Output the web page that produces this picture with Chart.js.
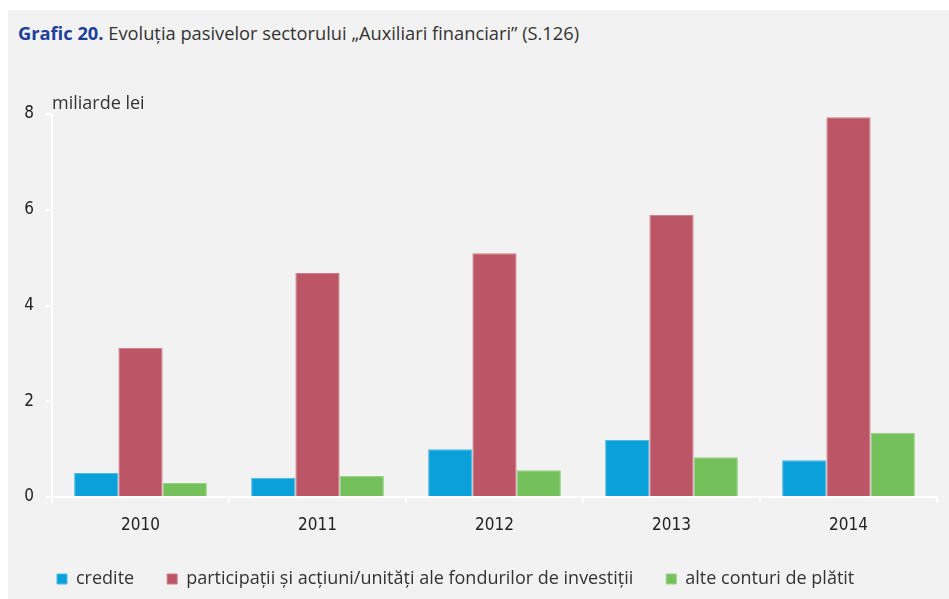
<!DOCTYPE html>
<html>
<head>
<meta charset="utf-8">
<script src="https://cdn.jsdelivr.net/npm/chart.js@4.4.0/dist/chart.umd.min.js"></script>
<style>
  html, body { margin: 0; padding: 0; background: #fff; }
  #panel { position: absolute; left: 8px; top: 10px; width: 941px; height: 589px; background: #f2f2f2; }
  #title { position: absolute; left: 10px; top: 10px; font-family: "Open Sans", sans-serif; font-size: 18.3px; line-height: 25px; color: #333; white-space: nowrap; }
  #title b { color: #1d3f9a; }
  #wrap { position: absolute; left: 0; top: 0; width: 941px; height: 589px; }
</style>
</head>
<body>
<div id="panel">
  <div id="title"><b>Grafic 20.</b> Evoluția pasivelor sectorului „Auxiliari financiari” (S.126)</div>
  <div id="wrap"><canvas id="chart"></canvas></div>
</div>
<script>
const years = ["2010", "2011", "2012", "2013", "2014"]
const credite = [0.50, 0.40, 1.00, 1.19, 0.77]
const participatii = [3.11, 4.68, 5.09, 5.89, 7.93]
const alteConturi = [0.29, 0.44, 0.56, 0.83, 1.34]
const yTicks = [0, 2, 4, 6, 8]
const unitLabel = "miliarde lei"

const textFont = "'Open Sans', sans-serif"
const tickFont = "'Liberation Sans Narrow', 'DejaVu Sans Condensed', sans-serif"

// unit label drawn just right of the y axis top
const unitPlugin = {
  id: "unitLabel",
  afterDraw(chart) {
    const ctx = chart.ctx
    const y = chart.scales.y
    ctx.save()
    ctx.font = "18px " + textFont
    ctx.fillStyle = "#333"
    ctx.textBaseline = "alphabetic"
    ctx.fillText(unitLabel, chart.chartArea.left, y.getPixelForValue(8) - 5)
    ctx.restore()
  }
}

function ds(label, data, color, border) {
  return {
    label: label,
    data: data,
    backgroundColor: color,
    borderColor: border,
    borderWidth: 1,
    categoryPercentage: 0.75,
    barPercentage: 1.0,
  }
}

new Chart(document.getElementById("chart"), {
  type: "bar",
  data: {
    labels: years,
    datasets: [
      ds("credite", credite, "#0aa0d9", "#4fb9e2"),
      ds("participații și acțiuni/unități ale fondurilor de investiții", participatii, "#bc5565", "#cd7f8b"),
      ds("alte conturi de plătit", alteConturi, "#74c15c", "#97d185"),
    ],
  },
  plugins: [unitPlugin],
  options: {
    responsive: true,
    maintainAspectRatio: false,
    animation: false,
    layout: { padding: { top: 104, right: 12, left: 16, bottom: 1 } },
    scales: {
      x: {
        afterFit(axis) { axis.height = 40 },
        grid: { display: true, drawOnChartArea: false, drawTicks: true, offset: true, color: "#fff", lineWidth: 2, tickLength: 6 },
        border: { color: "#fff", width: 2 },
        ticks: { color: "#222", font: { family: tickFont, size: 17 }, padding: 12 },
      },
      y: {
        min: 0,
        max: 8,
        afterBuildTicks(axis) { axis.ticks = yTicks.map((v) => ({ value: v })) },
        afterFit(axis) { axis.width = 28 },
        grid: { display: true, drawOnChartArea: false, drawTicks: true, color: "#fff", lineWidth: 2, tickLength: 6 },
        border: { color: "#fff", width: 2 },
        ticks: { color: "#222", font: { family: tickFont, size: 17 }, padding: 12 },
      },
    },
    plugins: {
      title: { display: false },
      tooltip: { enabled: false },
      legend: {
        position: "bottom",
        align: "start",
        labels: {
          boxWidth: 10,
          boxHeight: 10,
          padding: 33,
          color: "#333",
          font: { family: textFont, size: 18 },
        },
      },
    },
  },
})
</script>
</body>
</html>
